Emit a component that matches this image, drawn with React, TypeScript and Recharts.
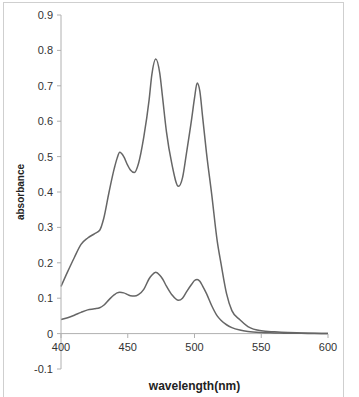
import { LineChart, Line, XAxis, YAxis, ReferenceLine, Label } from "recharts";

// wavelength (nm) sample points
const wavelengths = [
  400, 405, 410, 415, 420, 425, 429, 432, 436, 440, 442, 444, 447, 450, 452, 455, 458, 462, 466, 468, 471,
  474, 476, 479, 483, 488, 491, 494, 498, 500, 502, 504, 506, 509, 513, 517, 520, 524, 528, 534, 540, 550,
  560, 570, 580, 590, 600,
];

// upper spectrum
const absHigh = [
  0.133, 0.175, 0.215, 0.252, 0.27, 0.282, 0.292, 0.325, 0.4, 0.468, 0.495, 0.512, 0.5, 0.475, 0.462, 0.455,
  0.48, 0.555, 0.66, 0.73, 0.776, 0.735, 0.67, 0.57, 0.48, 0.416, 0.44, 0.51, 0.61, 0.665, 0.708, 0.685,
  0.615, 0.51, 0.39, 0.262, 0.195, 0.113, 0.065, 0.039, 0.02, 0.008, 0.005, 0.003, 0.002, 0.001, 0,
];

// lower spectrum
const absLow = [
  0.04, 0.045, 0.052, 0.06, 0.067, 0.07, 0.073, 0.08, 0.096, 0.11, 0.115, 0.117, 0.115, 0.11, 0.107, 0.106,
  0.11, 0.125, 0.155, 0.165, 0.173, 0.165, 0.155, 0.134, 0.11, 0.094, 0.1, 0.118, 0.14, 0.15, 0.153, 0.148,
  0.135, 0.113, 0.078, 0.05, 0.037, 0.025, 0.017, 0.01, 0.006, 0.003, 0.002, 0.001, 0.001, 0, 0,
];

const xTicks = [400, 450, 500, 550, 600];
const yTicks = [-0.1, 0, 0.1, 0.2, 0.3, 0.4, 0.5, 0.6, 0.7, 0.8, 0.9];

const data = wavelengths.map((wl, i) => ({ wl, high: absHigh[i], low: absLow[i] }));

const font = "'Liberation Sans', Arial, sans-serif";
const curve = "#666666";
const axisGray = "#b0b0b0";

// x labels sit under the zero line, not under the plot bottom
const ZERO_SHIFT = 35;

const XTick = (props: any) => {
  const { x, y, payload } = props;
  const y0 = y - ZERO_SHIFT;
  return (
    <g>
      <line x1={x} x2={x} y1={y0} y2={y0 + 4} stroke={axisGray} />
      <text x={x} y={y0 + 17} textAnchor="middle" fontSize={11} fill="#333" fontFamily={font}>
        {payload.value}
      </text>
    </g>
  );
};

export default function App() {
  return (
    <div style={{ position: "absolute", left: 0, top: 0, width: 359, height: 397, background: "#fff" }}>
      <div
        style={{
          position: "absolute",
          left: 3,
          top: 2,
          width: 341,
          height: 396,
          border: "1px solid #cfcfcf",
          boxSizing: "border-box",
        }}
      />
      <div style={{ position: "absolute", left: 0, top: 0 }}>
        <LineChart width={359} height={397} data={data} margin={{ top: 15, right: 31, bottom: 3, left: 0 }}>
          <XAxis
            dataKey="wl"
            type="number"
            domain={[400, 600]}
            ticks={xTicks}
            axisLine={false}
            tickLine={false}
            tickSize={0}
            tickMargin={0}
            height={25}
            tick={<XTick />}
          >
            <Label
              value="wavelength(nm)"
              position="insideBottom"
              offset={4}
              style={{ fontSize: 12, fontWeight: "bold", fill: "#222", fontFamily: font }}
            />
          </XAxis>
          <YAxis
            type="number"
            domain={[-0.1, 0.9]}
            ticks={yTicks}
            width={61}
            interval={0}
            stroke={axisGray}
            tickSize={4}
            tickMargin={4}
            tickFormatter={(v: number) => (v === 0 ? "0" : v.toFixed(1))}
            tick={{ fontSize: 11, fill: "#333", fontFamily: font }}
            label={{
              content: (p: any) => {
                const vb = p.viewBox;
                const cx = vb.x + 20;
                const cy = vb.y + vb.height / 2;
                return (
                  <text
                    x={cx}
                    y={cy}
                    transform={`rotate(-90 ${cx} ${cy})`}
                    textAnchor="middle"
                    dominantBaseline="central"
                    fontSize={10}
                    fontWeight="bold"
                    fill="#222"
                    fontFamily={font}
                  >
                    absorbance
                  </text>
                );
              },
            }}
          />
          <ReferenceLine y={0} stroke={axisGray} />
          <Line
            type="monotone"
            dataKey="high"
            stroke={curve}
            strokeWidth={1.5}
            dot={false}
            isAnimationActive={false}
          />
          <Line
            type="monotone"
            dataKey="low"
            stroke={curve}
            strokeWidth={1.5}
            dot={false}
            isAnimationActive={false}
          />
        </LineChart>
      </div>
    </div>
  );
}
